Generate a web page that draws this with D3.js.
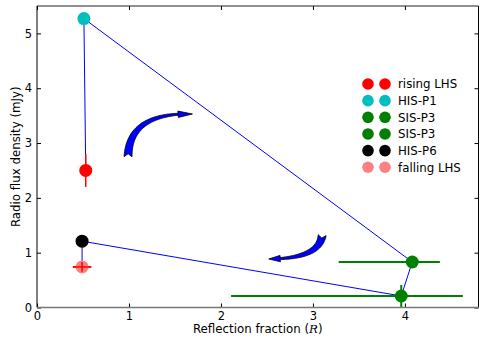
<!DOCTYPE html>
<html>
<head>
<meta charset="utf-8">
<script src="https://cdn.jsdelivr.net/npm/d3@7"></script>
<style>
  body { margin: 0; background: #fff; }
  text { font-family: "DejaVu Sans", sans-serif; }
</style>
</head>
<body>
<div id="chart"></div>
<script>
var width = 490;
var height = 342;
var margin = {top: 6, right: 11.5, bottom: 34.5, left: 37};

// states along the outburst, in time order
var states = ["rising LHS", "HIS-P1", "SIS-P3", "SIS-P3", "HIS-P6", "falling LHS"];
var colors = ["#ff0000", "#00bfbf", "#008000", "#008000", "#000000", "#ff8080"];
var refl = [0.53, 0.51, 4.08, 3.96, 0.49, 0.49];
var flux = [2.5, 5.27, 0.83, 0.21, 1.21, 0.74];
// error bars: [minus, plus]
var xErr = [[0, 0], [0, 0], [0.8, 0.3], [1.85, 0.67], [0.05, 0.05], [0.1, 0.1]];
var yErr = [[0.3, 0.3], [0, 0], [0, 0], [0.2, 0.2], [0, 0], [0.09, 0.09]];
var errColors = ["#ff0000", "#00bfbf", "#008000", "#008000", "#000000", "#ff0000"];

var xTicks = [0, 1, 2, 3, 4];
var yTicks = [0, 1, 2, 3, 4, 5];

// curved arrows in data units: tail, control, head
var arrows = [
    [[0.99, 2.75], [1.0, 3.56], [1.69, 3.53]],
    [[3.10, 1.32], [3.07, 0.89], [2.52, 0.885]]
];

var svg = d3.select("#chart")
    .append("svg")
    .attr("width", width)
    .attr("height", height);

var w = width - margin.left - margin.right;
var h = height - margin.top - margin.bottom;

var x = d3.scaleLinear().domain([0, 4.8]).range([0, w]);
var y = d3.scaleLinear().domain([0, 5.5]).range([h, 0]);

var g = svg.append("g")
    .attr("transform", "translate(" + margin.left + "," + margin.top + ")");

var data = states.map(function(s, i) {
    return {name: s, color: colors[i], ec: errColors[i], x: refl[i], y: flux[i], xe: xErr[i], ye: yErr[i]};
});

// connecting track
g.append("path")
    .datum(data)
    .attr("fill", "none")
    .attr("stroke", "#0000ff")
    .attr("stroke-width", 1)
    .attr("d", d3.line().x(d => x(d.x)).y(d => y(d.y)));

// error bars
data.forEach(function(d) {
    if (d.xe[0] + d.xe[1] > 0) {
        g.append("line")
            .attr("x1", x(d.x - d.xe[0])).attr("x2", x(d.x + d.xe[1]))
            .attr("y1", y(d.y)).attr("y2", y(d.y))
            .attr("stroke", d.ec).attr("stroke-width", d.name == "SIS-P3" ? 2 : 1.5);
    }
});

// points
g.selectAll("circle.pt")
    .data(data)
    .enter()
    .append("circle")
        .attr("class", "pt")
        .attr("cx", d => x(d.x))
        .attr("cy", d => y(d.y))
        .attr("r", 6.5)
        .attr("fill", d => d.color);

data.forEach(function(d) {
    if (d.ye[0] + d.ye[1] > 0) {
        g.append("line")
            .attr("x1", x(d.x)).attr("x2", x(d.x))
            .attr("y1", y(d.y - d.ye[0])).attr("y2", y(d.y + d.ye[1]))
            .attr("stroke", d.ec).attr("stroke-width", d.name == "SIS-P3" ? 2 : 1.5);
    }
    if (d.name == "falling LHS") {
        g.append("line")
            .attr("x1", x(d.x - d.xe[0])).attr("x2", x(d.x + d.xe[1]))
            .attr("y1", y(d.y)).attr("y2", y(d.y))
            .attr("stroke", d.ec).attr("stroke-width", 1.5);
    }
});

// fancy tapered arrow along a quadratic curve
function arrowPath(a) {
    var p0 = [x(a[0][0]), y(a[0][1])], c = [x(a[1][0]), y(a[1][1])], p1 = [x(a[2][0]), y(a[2][1])];
    function pt(t) {
        var u = 1 - t;
        return [u*u*p0[0] + 2*u*t*c[0] + t*t*p1[0], u*u*p0[1] + 2*u*t*c[1] + t*t*p1[1]];
    }
    function tan(t) {
        var dx = 2*(1-t)*(c[0]-p0[0]) + 2*t*(p1[0]-c[0]);
        var dy = 2*(1-t)*(c[1]-p0[1]) + 2*t*(p1[1]-c[1]);
        var l = Math.sqrt(dx*dx + dy*dy);
        return [dx/l, dy/l];
    }
    var tEnd = 0.88, n = 30, left = [], right = [];
    for (var i = 0; i <= n; i++) {
        var t = tEnd * i / n;
        var p = pt(t), tg = tan(t), hw = (4.0 - 3.0 * i / n);
        left.push([p[0] - tg[1]*hw, p[1] + tg[0]*hw]);
        right.push([p[0] + tg[1]*hw, p[1] - tg[0]*hw]);
    }
    var pe = pt(tEnd), te = tan(tEnd), hh = 3.2;
    var pts = left.concat([[pe[0] - te[1]*hh, pe[1] + te[0]*hh], p1, [pe[0] + te[1]*hh, pe[1] - te[0]*hh]])
        .concat(right.reverse());
    var t0 = tan(0);
    pts.push([p0[0] + t0[0]*3, p0[1] + t0[1]*3]);
    return "M" + pts.map(p => p[0].toFixed(2) + "," + p[1].toFixed(2)).join("L") + "Z";
}

g.selectAll("path.arrow")
    .data(arrows)
    .enter()
    .append("path")
        .attr("class", "arrow")
        .attr("d", arrowPath)
        .attr("fill", "#0000ff")
        .attr("stroke", "#000")
        .attr("stroke-width", 0.8)
        .attr("stroke-linejoin", "round");

// axes, ticks inward on all four sides
g.append("g")
    .attr("transform", "translate(0," + h + ")")
    .call(d3.axisBottom(x).tickValues(xTicks).tickSize(-4).tickPadding(4).tickFormat(d3.format("d")));
g.append("g")
    .call(d3.axisLeft(y).tickValues(yTicks).tickSize(-4).tickPadding(5).tickFormat(d3.format("d")));
g.append("g")
    .call(d3.axisTop(x).tickValues(xTicks).tickSize(-4).tickFormat(""));
g.append("g")
    .attr("transform", "translate(" + w + ",0)")
    .call(d3.axisRight(y).tickValues(yTicks).tickSize(-4).tickFormat(""));

g.selectAll(".domain").remove();
g.selectAll(".tick text").attr("font-size", 11.5).attr("fill", "#000").style("font-family", "DejaVu Sans, sans-serif");
g.selectAll(".tick line").attr("stroke", "#000");

// frame
g.append("line").attr("x1", 0).attr("x2", w).attr("y1", 0).attr("y2", 0).attr("stroke", "#222");
g.append("line").attr("x1", w).attr("x2", w).attr("y1", 0).attr("y2", h).attr("stroke", "#000");
g.append("line").attr("x1", 0).attr("x2", 0).attr("y1", 0).attr("y2", h).attr("stroke", "#000");
g.append("line").attr("x1", 0).attr("x2", w).attr("y1", h).attr("y2", h).attr("stroke", "#777").attr("stroke-width", 1.5);

// axis labels
var xl = svg.append("text")
    .attr("x", margin.left + w / 2)
    .attr("y", 333)
    .attr("text-anchor", "middle")
    .attr("font-size", 11.8);
xl.append("tspan").text("Reflection fraction (");
xl.append("tspan").text("R").attr("font-style", "italic").style("font-family", "DejaVu Serif, serif");
xl.append("tspan").text(")");

svg.append("text")
    .attr("transform", "translate(20," + (margin.top + h / 2) + ") rotate(-90)")
    .attr("text-anchor", "middle")
    .attr("font-size", 11.8)
    .text("Radio flux density (mJy)");

// legend, two markers per entry
var leg = svg.append("g").attr("transform", "translate(368,84)");
var rows = leg.selectAll("g")
    .data(data)
    .enter()
    .append("g")
        .attr("transform", (d, i) => "translate(0," + (i * 16.65) + ")");
rows.append("circle").attr("cx", 0).attr("r", 5.8).attr("fill", d => d.color);
rows.append("circle").attr("cx", 17).attr("r", 5.8).attr("fill", d => d.color);
rows.append("text")
    .attr("x", 30)
    .attr("dy", "0.36em")
    .attr("font-size", 11.8)
    .text(d => d.name);
</script>
</body>
</html>
